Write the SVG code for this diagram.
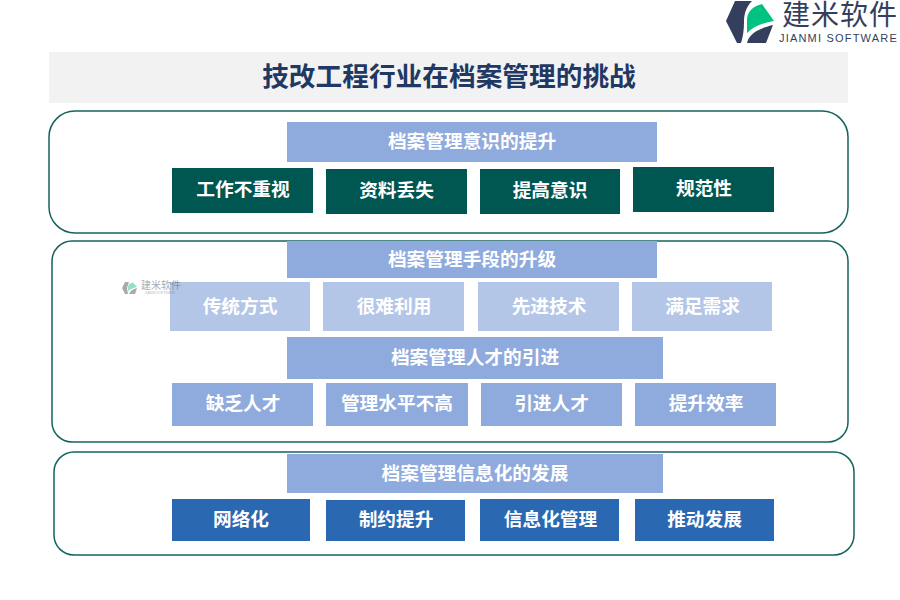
<svg xmlns="http://www.w3.org/2000/svg" width="900" height="600" viewBox="0 0 900 600">
<style>
text{font-family:"Liberation Sans","Noto Sans CJK SC",sans-serif;font-weight:700;text-anchor:middle;font-size:18.7px;fill:#fff}
.frame{fill:#fff;stroke:#14635f;stroke-width:1.5}
.h{fill:#8faadc}.g{fill:#005651}.l{fill:#b4c6e7}.m{fill:#8faadc}.b{fill:#2a68b2}
.dk{fill:#333f5c}
</style>
<rect width="900" height="600" fill="#fff"/>
<g id="logo">
<path class="dk" d="M735 1H752C746 7 744 14 744 22C744 30 743 37 741 43H737L726 21Z"/>
<path d="M747 33V20C747 12 753 6 762 4L774 21C763 23 754 26 747 33Z" fill="#00c281"/>
<path class="dk" d="M747 43C748 38 751 35 755 32C760 29 765 27 773 25L766 43Z"/>
<text x="840" y="25" style="font-size:28px;font-weight:400;letter-spacing:1px;fill:#333f5c">建米软件</text>
<text x="838.5" y="42" style="font-size:11px;font-weight:400;letter-spacing:1.2px;fill:#333f5c">JIANMI SOFTWARE</text>
</g>
<g id="title"><rect x="49" y="52" width="799" height="51" fill="#f2f2f2"/><text x="449" y="86" style="font-size:26.7px;fill:#1f3864">技改工程行业在档案管理的挑战</text></g>
<g id="connectors"></g>
<g id="panel1"><rect class="frame" x="49" y="111" width="799" height="122" rx="26"/></g>
<g id="panel2"><rect class="frame" x="52" y="241" width="796" height="201" rx="20"/></g>
<g id="panel3"><rect class="frame" x="54" y="452" width="800" height="103" rx="20"/></g>
<g id="n1"><rect class="h" x="287" y="122" width="370" height="40"/><text x="472" y="148">档案管理意识的提升</text></g>
<g id="n2"><rect class="g" x="172" y="168" width="141" height="45"/><text x="243" y="196">工作不重视</text></g>
<g id="n3"><rect class="g" x="326" y="169" width="141" height="45"/><text x="396.5" y="197">资料丢失</text></g>
<g id="n4"><rect class="g" x="480" y="169" width="140" height="45"/><text x="550" y="197">提高意识</text></g>
<g id="n5"><rect class="g" x="633" y="167" width="141" height="45"/><text x="704" y="195">规范性</text></g>
<g id="n6"><rect class="h" x="287" y="241" width="370" height="37"/><text x="472" y="266">档案管理手段的升级</text></g>
<g id="n7"><rect class="l" x="170" y="282" width="140" height="49"/><text x="240" y="313">传统方式</text></g>
<g id="n8"><rect class="l" x="323" y="282" width="141" height="49"/><text x="394" y="313">很难利用</text></g>
<g id="n9"><rect class="l" x="478" y="282" width="141" height="49"/><text x="549" y="313">先进技术</text></g>
<g id="n10"><rect class="l" x="632" y="282" width="140" height="49"/><text x="702.5" y="313">满足需求</text></g>
<g id="n11"><rect class="m" x="287" y="337" width="376" height="42"/><text x="475" y="364">档案管理人才的引进</text></g>
<g id="n12"><rect class="m" x="172" y="383" width="141" height="43"/><text x="243" y="410">缺乏人才</text></g>
<g id="n13"><rect class="m" x="326" y="383" width="142" height="43"/><text x="397" y="410">管理水平不高</text></g>
<g id="n14"><rect class="m" x="481" y="383" width="141" height="43"/><text x="551.5" y="410">引进人才</text></g>
<g id="n15"><rect class="m" x="635" y="383" width="141" height="43"/><text x="706" y="410">提升效率</text></g>
<g id="n16"><rect class="h" x="287" y="454" width="376" height="39"/><text x="475" y="480">档案管理信息化的发展</text></g>
<g id="n17"><rect class="b" x="172" y="499" width="138" height="42"/><text x="241" y="526">网络化</text></g>
<g id="n18"><rect class="b" x="326" y="500" width="139" height="41"/><text x="396" y="526">制约提升</text></g>
<g id="n19"><rect class="b" x="480" y="499" width="139" height="42"/><text x="550.5" y="526">信息化管理</text></g>
<g id="n20"><rect class="b" x="635" y="499" width="139" height="42"/><text x="704.5" y="526">推动发展</text></g>
<g id="watermark" opacity=".5">
<path d="M125 282H129L127 288L128 294H125L122 288Z" fill="#556"/>
<path d="M128 291V287C128 285 130 283 133 282.500L137 287C133 288 130 289 128 291Z" fill="#2cc090"/>
<path d="M129 294C130 291 133 289 137 288L135 294Z" fill="#556"/>
<text x="161" y="289" style="font-size:10px;font-weight:400;fill:#556">建米软件</text>
<text x="160" y="293.500" style="font-size:3.300px;font-weight:400;fill:#778">JIANMI SOFTWARE</text>
</g>
</svg>
